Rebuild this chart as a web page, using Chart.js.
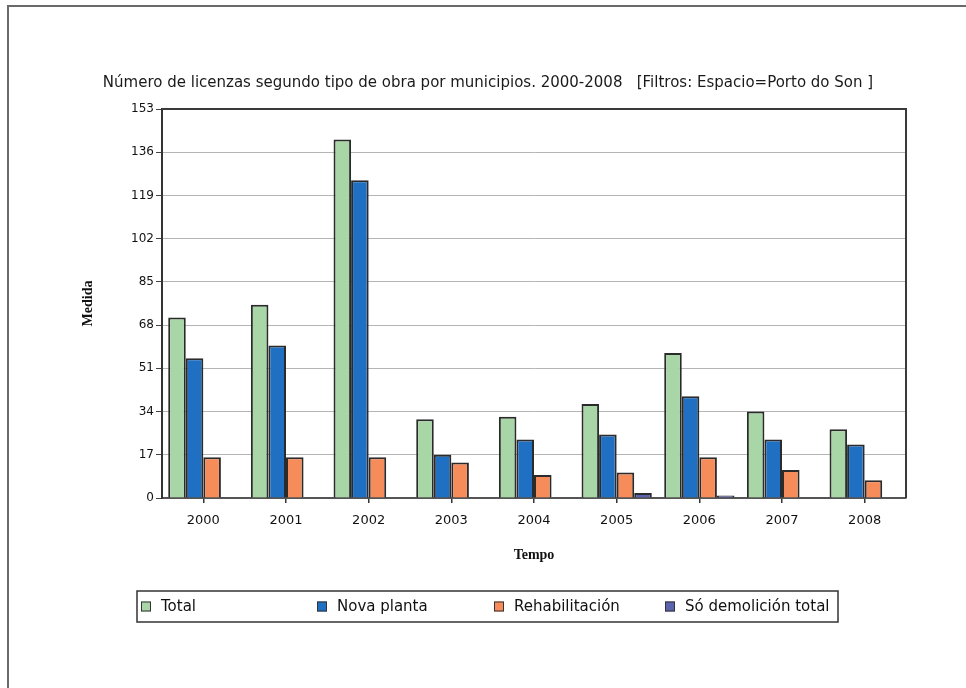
<!DOCTYPE html>
<html><head><meta charset="utf-8">
<script src="https://cdn.jsdelivr.net/npm/chart.js@4/dist/chart.umd.min.js"></script>
<style>html,body{margin:0;padding:0;background:#fff}#wrap{width:966px;height:688px}</style>
</head><body><div id="wrap"><canvas id="c" width="966" height="688"></canvas></div>
<script>
const chartTitle = "Número de licenzas segundo tipo de obra por municipios. 2000-2008   [Filtros: Espacio=Porto do Son ]";
const categories = ["2000","2001","2002","2003","2004","2005","2006","2007","2008"];
const seriesNames = ["Total","Nova planta","Rehabilitación","Só demolición total"];
const total = [71,76,141,31,32,37,57,34,27];
const novaPlanta = [55,60,125,17,23,25,40,23,21];
const rehabilitacion = [16,16,16,14,9,10,16,11,7];
const soDemolicion = [0,0,0,0,0,2,1,0,0];
const yTicks = [0,17,34,51,68,85,102,119,136,153];
const yTitle = "Medida";
const xTitle = "Tempo";
const seriesColors = ["#a8d6a6","#1f6fc3","#f58c5a","#5b62ae"];
const SANS = '"DejaVu Sans", Verdana, sans-serif';
const SERIF = '"Liberation Serif", "Times New Roman", serif';

const frame = {
  id: 'frame',
  beforeDraw(chart){
    const c = chart.ctx;
    c.save();
    c.fillStyle = '#fff';
    c.fillRect(0,0,chart.width,chart.height);
    c.strokeStyle = '#6a6a6a';
    c.lineWidth = 2;
    c.beginPath();
    c.moveTo(8, chart.height); c.lineTo(8, 6); c.lineTo(chart.width, 6);
    c.stroke();
    c.restore();
  },
  afterDatasetsDraw(chart){
    const a = chart.chartArea, c = chart.ctx;
    c.save();
    c.strokeStyle = '#3a3a3a';
    c.lineWidth = 2;
    c.beginPath();
    c.moveTo(a.left, a.top); c.lineTo(a.right, a.top); c.lineTo(a.right, a.bottom);
    c.stroke();
    c.restore();
  }
};

const legendX = [141, 317, 494, 665];
const boxLegend = {
  id: 'boxLegend',
  afterDraw(chart){
    const c = chart.ctx;
    const x0 = 137, y0 = 591, w = 701, h = 31;
    c.save();
    c.strokeStyle = '#333';
    c.lineWidth = 1.5;
    c.strokeRect(x0, y0, w, h);
    c.font = '15px ' + SANS;
    c.textBaseline = 'middle';
    chart.data.datasets.forEach((ds, i) => {
      const bx = legendX[i], by = y0 + h/2 - 5;
      c.fillStyle = ds.backgroundColor;
      c.fillRect(bx, by, 10, 10);
      c.strokeStyle = '#333';
      c.lineWidth = 1;
      c.strokeRect(bx + 0.5, by + 0.5, 9, 9);
      c.fillStyle = '#111';
      c.fillText(ds.label, bx + 20, y0 + h/2 + 1);
    });
    c.restore();
  }
};

const datasetsValues = [total, novaPlanta, rehabilitacion, soDemolicion];

new Chart(document.getElementById('c'), {
  type: 'bar',
  data: {
    labels: categories,
    datasets: datasetsValues.map((vals, i) => ({
      label: seriesNames[i],
      data: vals,
      backgroundColor: seriesColors[i],
      borderColor: '#2b2b2b',
      borderWidth: 2,
      borderSkipped: 'bottom',
      categoryPercentage: 0.85,
      barPercentage: 1.0
    }))
  },
  options: {
    responsive: false,
    animation: false,
    devicePixelRatio: 1,
    layout: { padding: { left: 70, right: 60, top: 0, bottom: 120 } },
    plugins: {
      legend: { display: false },
      tooltip: { enabled: false },
      title: {
        display: true,
        text: chartTitle,
        color: '#1a1a1a',
        font: { family: SANS, size: 15, weight: 'normal', lineHeight: 1.2 },
        padding: { top: 74, bottom: 17 }
      }
    },
    scales: {
      x: {
        grid: { display: true, drawOnChartArea: false, drawTicks: true, tickLength: 5, tickColor: '#333', offset: false, lineWidth: 1.5 },
        border: { display: true, color: '#555', width: 2 },
        ticks: { color: '#111', padding: 10, font: { family: SANS, size: 13 } },
        title: { display: true, text: xTitle, color: '#111', padding: { top: 0, bottom: 4 },
          font: { family: SERIF, size: 14, weight: 'bold' } },
        afterFit(s){ s.height = 70; }
      },
      y: {
        min: 0, max: 153,
        afterBuildTicks(s){ s.ticks = yTicks.map(v => ({ value: v })); },
        grid: { color: '#b5b5b5', lineWidth: 1, drawTicks: true, tickLength: 6, tickColor: '#444' },
        border: { display: true, color: '#333', width: 2 },
        ticks: { color: '#111', padding: 2, font: { family: SANS, size: 12 } },
        title: { display: true, text: yTitle, color: '#111', padding: { top: 10, bottom: 0 },
          font: { family: SERIF, size: 14, weight: 'bold' } },
        afterFit(s){ s.width = 92; }
      }
    }
  },
  plugins: [frame, boxLegend]
});
</script>
</body></html>
